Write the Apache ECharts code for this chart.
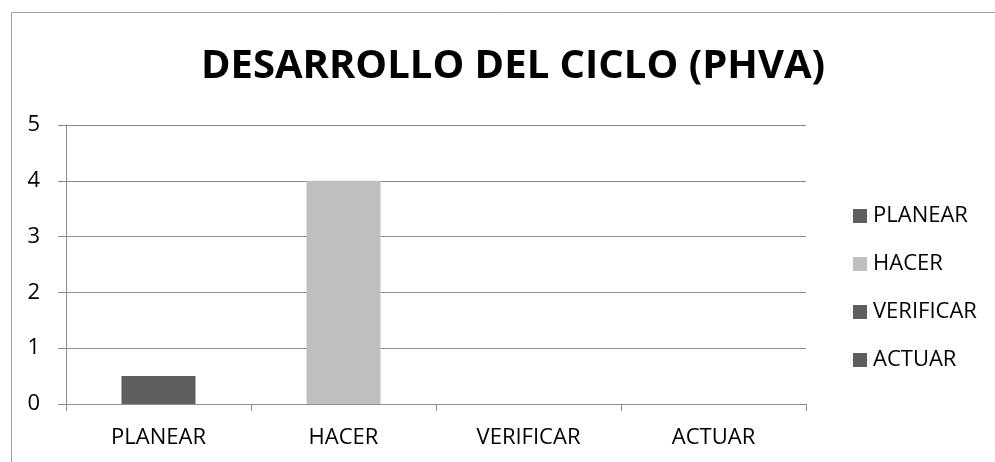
<!DOCTYPE html>
<html>
<head>
<meta charset="utf-8">
<script src="https://cdn.jsdelivr.net/npm/echarts@6/dist/echarts.min.js"></script>
<style>
	html, body { margin: 0; padding: 0; background: #fff; }
	#main { width: 995px; height: 462px; }
</style>
</head>
<body>
<div id="main"></div>
<script>
// datos del gráfico
var categorias = ['PLANEAR', 'HACER', 'VERIFICAR', 'ACTUAR']
var valores = [0.5, 4, 0, 0]
var colores = ['#5f5f5f', '#bfbfbf', '#5f5f5f', '#5f5f5f']
var ticksY = [0, 1, 2, 3, 4, 5]

function _chartPhva(id) {
	var dom = document.getElementById(id)
	var myChart = echarts.init(dom)
	var fuente = 'Open Sans'
	// una serie por categoría, apiladas para que la barra quede centrada
	var series = categorias.map(function (nombre, i) {
		return {
			name: nombre,
			type: 'bar',
			stack: 'total',
			barWidth: '40%',
			itemStyle: { color: colores[i] },
			data: categorias.map(function (c, j) {
				return j == i ? valores[i] : '-'
			})
		}
	})
	var option = {
		animation: false,
		backgroundColor: '#fff',
		title: {
			text: 'DESARROLLO DEL CICLO (PHVA)',
			left: 508,
			textAlign: 'center',
			top: 42,
			textStyle: {
				fontFamily: fuente,
				fontWeight: 'bold',
				fontSize: 40,
				color: '#000'
			}
		},
		legend: {
			orient: 'vertical',
			left: 848,
			top: 200,
			itemWidth: 14,
			itemHeight: 14,
			itemGap: 26,
			icon: 'rect',
			data: categorias,
			textStyle: {
				fontFamily: fuente,
				fontSize: 22,
				color: '#000',
				padding: [0, 0, 0, 1]
			}
		},
		grid: {
			left: 66,
			right: 189,
			top: 125,
			bottom: 58,
			containLabel: false
		},
		xAxis: {
			type: 'category',
			data: categorias,
			axisLine: { lineStyle: { color: '#8c8c8c', width: 1 } },
			axisTick: { show: true, length: 7, lineStyle: { color: '#8c8c8c' } },
			axisLabel: {
				fontFamily: fuente,
				fontSize: 22,
				color: '#000',
				margin: 23
			}
		},
		yAxis: {
			type: 'value',
			min: ticksY[0],
			max: ticksY[ticksY.length - 1],
			interval: 1,
			axisLine: { show: true, lineStyle: { color: '#8c8c8c', width: 1 } },
			axisTick: { show: true, length: 8, lineStyle: { color: '#8c8c8c' } },
			splitLine: { show: true, lineStyle: { color: '#8c8c8c', width: 1 } },
			axisLabel: {
				fontFamily: fuente,
				fontSize: 22,
				color: '#000',
				margin: 26
			}
		},
		graphic: [
			{
				type: 'rect',
				shape: { x: 11.5, y: 12.5, width: 1000, height: 500 },
				style: { fill: 'none', stroke: '#a0a0a0', lineWidth: 1 },
				silent: true
			}
		],
		series: series
	}
	myChart.setOption(option)
	return myChart
}

_chartPhva('main')
</script>
</body>
</html>
